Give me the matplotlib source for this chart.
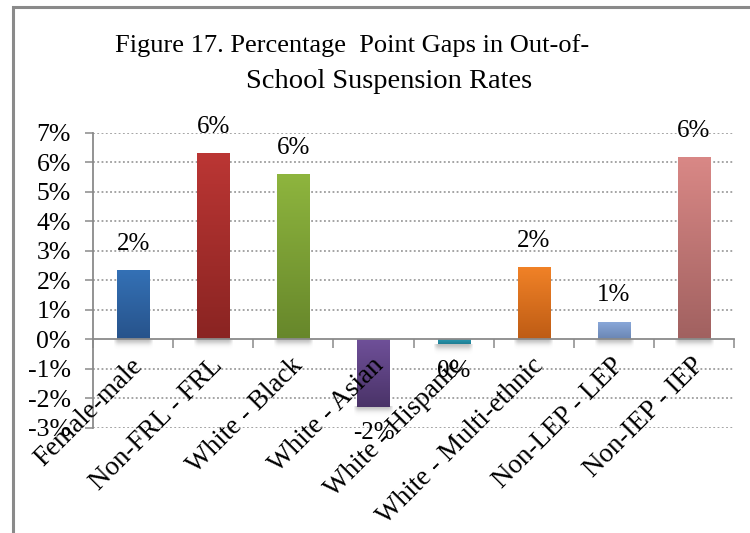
import numpy as np
import matplotlib
matplotlib.use("Agg")
import matplotlib.pyplot as plt
from matplotlib.colors import to_rgb
from matplotlib.patches import Rectangle

categories = ["Female-male", "Non-FRL - FRL", "White - Black", "White - Asian",
              "White - Hispanic", "White - Multi-ethnic", "Non-LEP - LEP", "Non-IEP - IEP"]
values = [0.0235, 0.0631, 0.0560, -0.0228, -0.0017, 0.0245, 0.0059, 0.0618]
value_labels = ["2%", "6%", "6%", "-2%", "0%", "2%", "1%", "6%"]
top_colors = ["#3471B6", "#BB3634", "#8EB53E", "#6F5099", "#2C9EB7", "#F18227", "#8BA9DB", "#D98886"]
bottom_colors = ["#27538B", "#8A2422", "#67872B", "#4A3368", "#1F7E93", "#BE5C15", "#6A86B3", "#A16160"]
y_ticks = [-0.03, -0.02, -0.01, 0.0, 0.01, 0.02, 0.03, 0.04, 0.05, 0.06, 0.07]
y_tick_labels = ["-3%", "-2%", "-1%", "0%", "1%", "2%", "3%", "4%", "5%", "6%", "7%"]
title_lines = ["Figure 17. Percentage  Point Gaps in Out-of-", "School Suspension Rates"]

SERIF = ["Liberation Serif", "DejaVu Serif"]
plt.rcParams["font.family"] = SERIF

fig = plt.figure(figsize=(7.5, 5.33), dpi=100)
fig.patch.set_facecolor("white")

# outer chart border (left and top visible)
fig.add_artist(Rectangle((12.5 / 750, -0.1), 1.2, 1 - 7 / 533 + 0.1,
                         transform=fig.transFigure, fill=False,
                         edgecolor="#8a8a8a", linewidth=2.2))

ax = fig.add_axes([93 / 750, 1 - 427.8 / 533, (734 - 93) / 750, (427.8 - 132.7) / 533])
ax.set_xlim(-0.5, len(categories) - 0.5)
ax.set_ylim(-0.03, 0.07)

x = np.arange(len(categories))
bw = 0.4
grid_c = "#8c8c8c"
axis_c = "#8a8a8a"

# gridlines
for yt in y_ticks:
    if yt != 0:
        ax.axhline(yt, color=grid_c, linewidth=1.1, linestyle=(0, (1.2, 1.6)), zorder=1)

bars = ax.bar(x, values, width=bw, zorder=3, linewidth=0)
for i, b in enumerate(bars):
    v = values[i]
    c1 = np.array(to_rgb(top_colors[i]))
    c2 = np.array(to_rgb(bottom_colors[i]))
    t = np.linspace(0, 1, 64)[:, None]
    grad = (c1[None, :] * (1 - t) + c2[None, :] * t)[:, None, :]
    lo, hi = min(0, v), max(0, v)
    im = ax.imshow(grad, extent=(i - bw / 2, i + bw / 2, lo, hi), aspect="auto",
                   origin="upper", zorder=3.1, interpolation="bilinear")
    im.set_clip_path(b)
    # soft shadow below bar end
    n = 32
    yy = np.linspace(0, 1, n)[:, None]
    xx = np.linspace(-1, 1, n)[None, :]
    alpha = 0.45 * np.exp(-(yy * 2.2) ** 2) * np.clip(1.25 - np.abs(xx) ** 6, 0, 1)
    sh = np.zeros((n, n, 4))
    sh[..., :3] = 0.45
    sh[..., 3] = alpha
    ax.imshow(sh, extent=(i - bw / 2 - 0.04, i + bw / 2 + 0.04, lo - 0.0035, lo),
              aspect="auto", origin="upper", zorder=2.5, interpolation="bilinear")

ax.set_xlim(-0.5, len(categories) - 0.5)
ax.set_ylim(-0.03, 0.07)

# data labels
for i, v in enumerate(values):
    off = 19
    ax.annotate(value_labels[i], xy=(i, v), xytext=(0, off if v >= 0 else -off),
                textcoords="offset points", ha="center", va="center",
                fontsize=18, color="black", zorder=5)

# category labels
for i, lab in enumerate(categories):
    ax.annotate(lab, xy=(i, 0), xytext=(-2, -10), textcoords="offset points",
                rotation=45, rotation_mode="anchor", ha="right", va="top",
                fontsize=19.5, color="black", zorder=4)

# axes styling
for s in ["top", "right"]:
    ax.spines[s].set_visible(False)
ax.spines["bottom"].set_position(("data", 0))
ax.spines["bottom"].set_color(axis_c)
ax.spines["bottom"].set_linewidth(1.3)
ax.spines["bottom"].set_zorder(4)
ax.spines["left"].set_color(axis_c)
ax.spines["left"].set_linewidth(1.3)

ax.set_yticks(y_ticks)
ax.set_yticklabels(y_tick_labels, fontsize=18.5)
ax.tick_params(axis="y", direction="out", length=6, width=1.1, color=axis_c, pad=10)
ax.set_xticks(np.arange(-0.5, len(categories), 1.0))
ax.set_xticklabels([])
ax.tick_params(axis="x", direction="out", length=6.5, width=1.1, color=axis_c)
ax.patch.set_alpha(0)

fig.text(352 / 750, 1 - 46 / 533, title_lines[0], ha="center", va="center",
         fontsize=19, color="black")
fig.text(389 / 750, 1 - 82 / 533, title_lines[1], ha="center", va="center",
         fontsize=20.5, color="black")

fig.savefig("out.png", dpi=100, facecolor="white")
